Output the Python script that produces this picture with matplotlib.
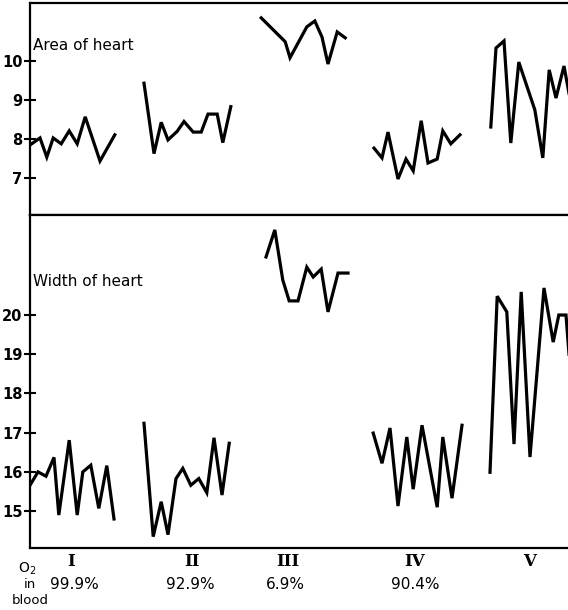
import numpy as np
import matplotlib
matplotlib.use("Agg")
import matplotlib.pyplot as plt

area_x = [
    [0, 1.25, 2.1, 2.9, 3.9, 4.9, 5.9, 6.9, 8.75, 10.6],
    [14.25, 15.5, 16.4, 17.25, 18.4, 19.25, 20.4, 21.4, 22.25, 23.4, 24.1, 25.1],
    [28.9, 31.9, 32.5, 34.6, 35.6, 36.5, 37.25, 38.4, 39.4],
    [43, 44, 44.75, 46, 47, 47.9, 48.9, 49.75, 50.9, 51.6, 52.6, 53.75],
    [57.6, 58.25, 59.25, 60.1, 61.1, 63.1, 64.1, 64.9, 65.75, 66.75, 67.75],
]
area_y = [
    [7.85, 8.03, 7.54, 8.03, 7.88, 8.21, 7.88, 8.57, 7.44, 8.11],
    [9.43, 7.63, 8.43, 7.98, 8.20, 8.45, 8.18, 8.18, 8.64, 8.64, 7.91, 8.83],
    [11.10, 10.49, 10.08, 10.87, 11.02, 10.61, 9.92, 10.74, 10.59],
    [7.77, 7.52, 8.18, 6.98, 7.49, 7.19, 8.47, 7.39, 7.49, 8.21, 7.88, 8.11],
    [8.31, 10.33, 10.51, 7.90, 9.97, 8.75, 7.52, 9.77, 9.05, 9.87, 8.75],
]
width_x = [
    [0, 1.0, 2.0, 3.0, 3.6, 4.9, 5.9, 6.6, 7.6, 8.6, 9.6, 10.5],
    [14.25, 15.4, 16.4, 17.25, 18.25, 19.1, 20.1, 21.1, 22.1, 23.0, 24.0, 24.9],
    [29.5, 30.6, 31.6, 32.4, 33.5, 34.6, 35.4, 36.4, 37.25, 38.5, 39.75],
    [42.9, 44, 45, 46, 47.1, 47.9, 49, 50.9, 51.6, 52.75, 54],
    [57.5, 58.4, 59.6, 60.5, 61.4, 62.5, 64.25, 65.4, 66.1, 67, 67.75],
]
width_y = [
    [15.66, 16.0, 15.89, 16.37, 14.90, 16.81, 14.90, 16.0, 16.17, 15.07, 16.16, 14.80],
    [17.24, 14.35, 15.24, 14.40, 15.83, 16.09, 15.66, 15.83, 15.47, 16.87, 15.41, 16.73],
    [21.48, 22.17, 20.89, 20.36, 20.36, 21.22, 20.97, 21.17, 20.08, 21.07, 21.07],
    [16.99, 16.22, 17.12, 15.13, 16.89, 15.56, 17.19, 15.10, 16.89, 15.33, 17.19],
    [15.99, 20.48, 20.08, 16.71, 20.59, 16.38, 20.69, 19.31, 20.0, 20.0, 18.0],
]
periods = ["I", "II", "III", "IV", "V"]
period_x = [5.1, 20.25, 32.25, 48.1, 62.4]
oxygen = ["99.9%", "92.9%", "6.9%", "90.4%"]
oxygen_x = [5.5, 20.1, 31.9, 48.1]

fig = plt.figure(figsize=(5.68, 6.1), dpi=100)
ax1 = fig.add_axes([30/568, 1 - 215/610, 1 - 30/568, 212/610])
ax2 = fig.add_axes([30/568, 1 - 548/610, 1 - 30/568, 333/610])

for xs, ys in zip(area_x, area_y):
    ax1.plot(xs, ys, color='black', lw=2.3, solid_joinstyle='miter')
for xs, ys in zip(width_x, width_y):
    ax2.plot(xs, ys, color='black', lw=2.3, solid_joinstyle='miter')

ax1.set_xlim(0, 67.25)
ax1.set_ylim(6.06, 11.48)
ax1.set_yticks([7, 8, 9, 10])
ax2.set_xlim(0, 67.25)
ax2.set_ylim(14.06, 22.55)
ax2.set_yticks([15, 16, 17, 18, 19, 20])

for ax in (ax1, ax2):
    ax.spines['right'].set_visible(False)
    for s in ('left', 'top', 'bottom'):
        ax.spines[s].set_linewidth(1.6)
    ax.set_xticks([])
    ax.tick_params(axis='y', direction='inout', length=9, width=1.5, pad=1)
    for lab in ax.get_yticklabels():
        lab.set_fontweight('bold')
        lab.set_fontsize(10.5)

ax1.text(0.006, 0.80, "Area of heart", transform=ax1.transAxes, fontsize=11, va='center')
ax2.text(0.006, 0.80, "Width of heart", transform=ax2.transAxes, fontsize=11, va='center')

for px, lab in zip(period_x, periods):
    ax2.text(px, -0.04, lab, transform=ax2.get_xaxis_transform(), ha='center', va='center',
             fontsize=12, fontweight='bold', family='DejaVu Serif')
for px, lab in zip(oxygen_x, oxygen):
    ax2.text(px, -0.11, lab, transform=ax2.get_xaxis_transform(), ha='center', va='center',
             fontsize=11)

fig.text(27/568, 1 - 569/610, "O$_2$", ha='center', va='center', fontsize=10)
fig.text(30/568, 1 - 585/610, "in", ha='center', va='center', fontsize=9.5)
fig.text(30/568, 1 - 600/610, "blood", ha='center', va='center', fontsize=9.5)

fig.savefig("out.png", dpi=100)
